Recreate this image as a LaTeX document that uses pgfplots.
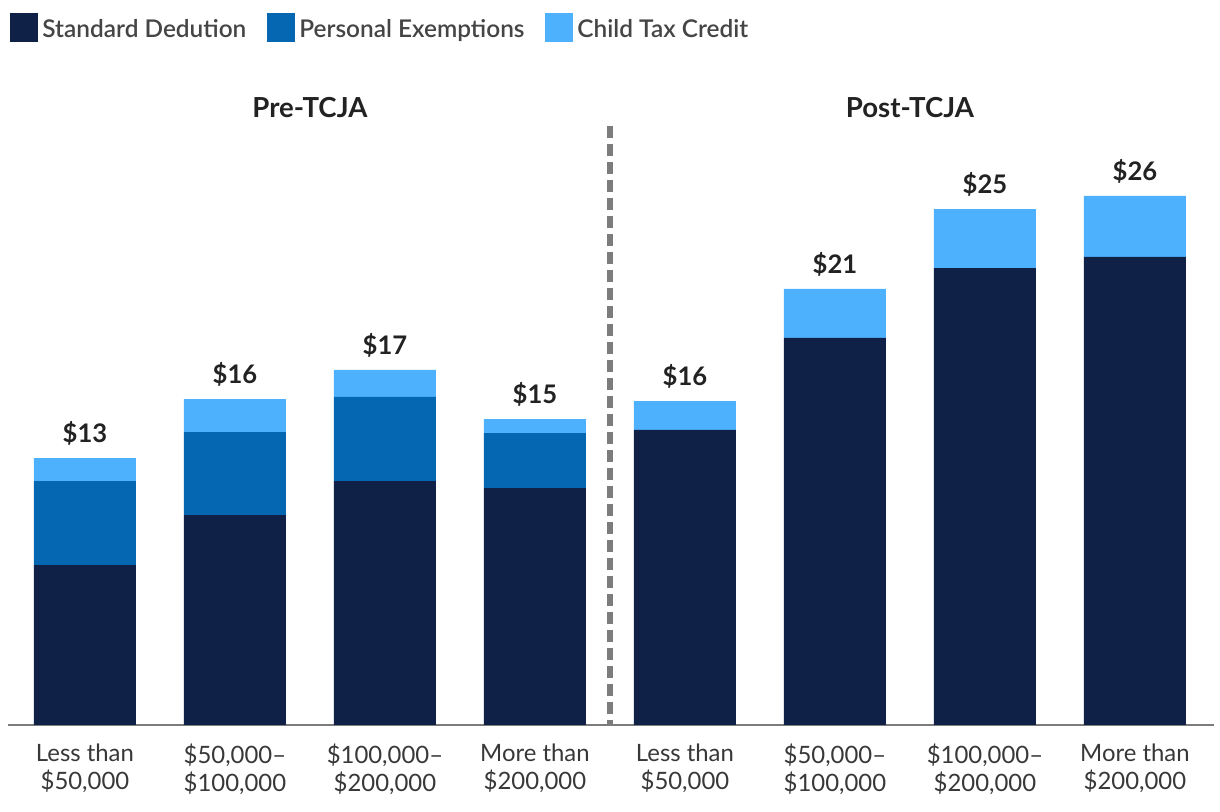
\documentclass[border=0pt]{standalone}
\usepackage{pgfplots}
\pgfplotsset{compat=1.18}
\usepackage{fontspec}
\setmainfont{Lato}
\newfontfamily\latosb{Lato Semibold}
\definecolor{cStd}{HTML}{0F2147}
\definecolor{cPE}{HTML}{0567B1}
\definecolor{cCTC}{HTML}{4EB1FD}
\definecolor{cAxis}{HTML}{7C7C7C}
\definecolor{cTick}{HTML}{383838}
\definecolor{cVal}{HTML}{222222}
\definecolor{cLeg}{HTML}{454545}
\begin{document}
\begin{tikzpicture}
\useasboundingbox (0,0) rectangle (610pt,406pt);
\pgfplotsset{mylegend/.style={legend image code/.code={\fill[##1] (0pt,-6.2pt) rectangle (14pt,8.3pt);}}}
\begin{axis}[
  at={(4pt,43.5pt)}, anchor=south west,
  scale only axis, width=603pt, height=307.5pt,
  xmin=-0.513, xmax=7.527, ymin=0, ymax=30,
  ybar stacked, bar width=51pt,
  axis x line*=bottom, axis y line=none,
  x axis line style={draw=cAxis, line width=1.1pt, -},
  xtick={0,...,7}, major tick length=0pt,
  xticklabels={{Less than\\\$50,000},{\$50,000–\\\$100,000},{\$100,000–\\\$200,000},{More than\\\$200,000},{Less than\\\$50,000},{\$50,000–\\\$100,000},{\$100,000–\\\$200,000},{More than\\\$200,000}},
  xticklabel style={align=center, font=\fontsize{11.95}{14}\selectfont, text=cTick, inner sep=0pt, yshift=-9.5pt},
  ytick=\empty,
  clip=false,
  legend columns=3,
  legend style={at={(0.0017,1.158)}, anchor=north west, draw=none, fill=none, inner sep=0pt,
    font=\latosb\fontsize{12.2}{14}\selectfont, text=cLeg,
    /tikz/every even column/.append style={column sep=8.5pt},
    /tikz/every odd column/.append style={column sep=0pt}},
  legend cell align=left,
]
\addplot[fill=cStd, draw=none, mylegend] coordinates {(0,7.80) (1,10.24) (2,11.90) (3,11.56) (4,14.39) (5,18.88) (6,22.29) (7,22.83)};
\addlegendentry{Standard Dedution}
\addplot[fill=cPE, draw=none, mylegend] coordinates {(0,4.10) (1,4.05) (2,4.10) (3,2.68) (4,0) (5,0) (6,0) (7,0)};
\addlegendentry{Personal Exemptions}
\addplot[fill=cCTC, draw=none, mylegend] coordinates {(0,1.12) (1,1.61) (2,1.32) (3,0.68) (4,1.41) (5,2.39) (6,2.88) (7,2.98)};
\addlegendentry{Child Tax Credit}
% near-zero-height series that carries the total labels at the top of each stack
\addplot[fill=none, draw=none,
  point meta=explicit symbolic, nodes near coords,
  every node near coord/.append style={anchor=south, inner sep=0pt, yshift=6pt, text=cVal, font=\bfseries\fontsize{12.8}{15}\selectfont}]
  coordinates {(0,0.001) [\$13] (1,0.001) [\$16] (2,0.001) [\$17] (3,0.001) [\$15] (4,0.001) [\$16] (5,0.001) [\$21] (6,0.001) [\$25] (7,0.001) [\$26]};
\draw[cAxis, line width=3pt, dash pattern=on 6pt off 3pt] (axis cs:3.5,29.22) -- (axis cs:3.5,0);
\node[font=\bfseries\fontsize{13.8}{16}\selectfont, text=cVal] at (axis cs:1.5,30.1) {Pre-TCJA};
\node[font=\bfseries\fontsize{13.8}{16}\selectfont, text=cVal] at (axis cs:5.5,30.1) {Post-TCJA};
\end{axis}
\end{tikzpicture}
\end{document}
